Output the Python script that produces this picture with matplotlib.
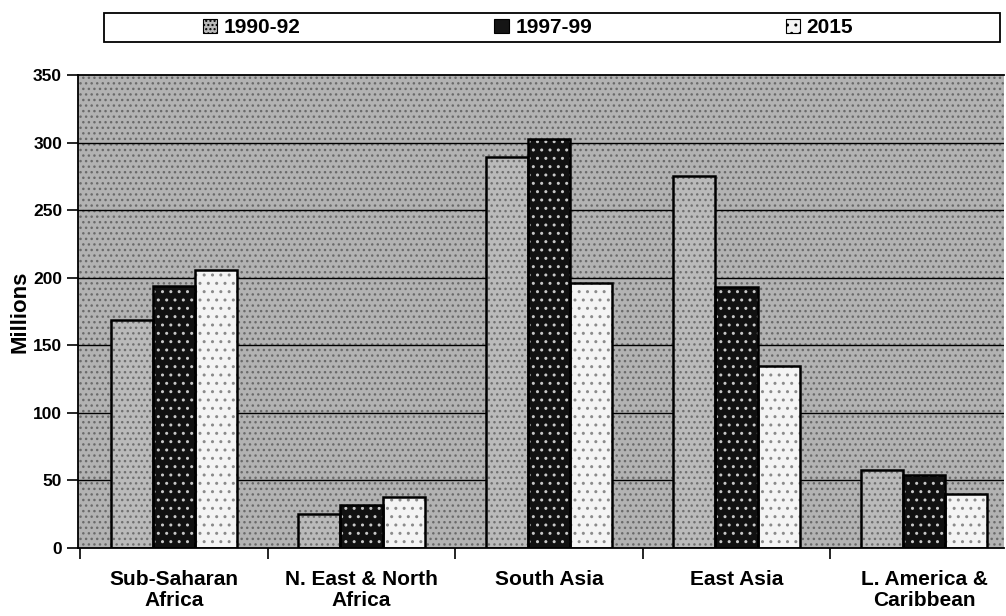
import numpy as np
import matplotlib
matplotlib.use("Agg")
import matplotlib.pyplot as plt
from matplotlib.patches import Rectangle

# --- data ---
regions = ["Sub-Saharan\nAfrica", "N. East & North\nAfrica", "South Asia",
           "East Asia", "L. America &\nCaribbean"]
v_1990 = [169, 25, 289, 275, 58]
v_1997 = [194, 32, 303, 193, 54]
v_2015 = [206, 38, 196, 135, 40]
series_names = ["1990-92", "1997-99", "2015"]
y_ticks = [0, 50, 100, 150, 200, 250, 300, 350]

plt.rcParams['font.family'] = ['Liberation Sans', 'DejaVu Sans']
plt.rcParams['font.weight'] = 'bold'

fig = plt.figure(figsize=(10.06, 6.16), dpi=100)
ax = fig.add_axes([78 / 1006, 1 - 548 / 616, (1004 - 78) / 1006, (548 - 75) / 616])

x = np.arange(len(regions))
w = 0.225

# stippled grey background
ax.set_facecolor('#b2b2b2')
ax.add_patch(Rectangle((0, 0), 1, 1, transform=ax.transAxes, facecolor='none',
                       edgecolor='#6a6a6a', hatch='...', lw=0, zorder=0))

for yv in y_ticks[1:-1]:
    ax.axhline(yv, color='black', lw=1, zorder=1)

# 1990-92: grey stipple
ax.bar(x - w, v_1990, w, color='#bababa', edgecolor='#707070', hatch='...', lw=0, zorder=2)
ax.bar(x - w, v_1990, w, fill=False, edgecolor='black', lw=1.8, zorder=3)
# 1997-99: black with light spots
ax.bar(x, v_1997, w, color='#111111', edgecolor='#c8c8c8', hatch='..', lw=0, zorder=2)
ax.bar(x, v_1997, w, fill=False, edgecolor='black', lw=1.8, zorder=3)
# 2015: white with fine dots
ax.bar(x + w, v_2015, w, color='#f4f4f4', edgecolor='#8a8a8a', hatch='..', lw=0, zorder=2)
ax.bar(x + w, v_2015, w, fill=False, edgecolor='black', lw=1.8, zorder=3)

ax.set_xlim(-0.512, 4.427)
ax.set_ylim(0, 350)
ax.set_yticks(y_ticks)
ax.set_yticklabels([str(t) for t in y_ticks], fontsize=12.5, fontweight='bold')
ax.tick_params(axis='y', length=8, width=1.2)

ax.set_xticks(x)
ax.set_xticklabels(regions, fontsize=15, fontweight='bold', linespacing=1.15)
ax.set_xticks(np.arange(len(regions)) - 0.5, minor=True)
ax.tick_params(axis='x', which='major', length=0, pad=16)
ax.tick_params(axis='x', which='minor', length=8, width=1.2)

ax.set_ylabel("Millions", fontsize=16, fontweight='bold', labelpad=2)

for s in ['left', 'bottom', 'top']:
    ax.spines[s].set_linewidth(1.3)
ax.spines['right'].set_visible(False)

# legend box
fig.patches.append(Rectangle((104 / 1006, 1 - 42 / 616), (1000 - 104) / 1006, 29 / 616,
                             transform=fig.transFigure, facecolor='white',
                             edgecolor='black', lw=1.3))
h1 = Rectangle((0, 0), 1, 1, facecolor='#bababa', edgecolor='black', hatch='....', lw=0.8)
h2 = Rectangle((0, 0), 1, 1, facecolor='#151515', edgecolor='black', lw=0.8)
h3 = Rectangle((0, 0), 1, 1, facecolor='#f4f4f4', edgecolor='black', hatch='..', lw=0.8)
fig.legend([h1, h2, h3], series_names, loc='center left', bbox_to_anchor=(0.183, 0.955),
           ncol=3, frameon=False, columnspacing=9.3, handlelength=0.7, handleheight=0.7,
           handletextpad=0.3, prop={'size': 15, 'weight': 'bold'})

fig.savefig("out.png", dpi=100)
